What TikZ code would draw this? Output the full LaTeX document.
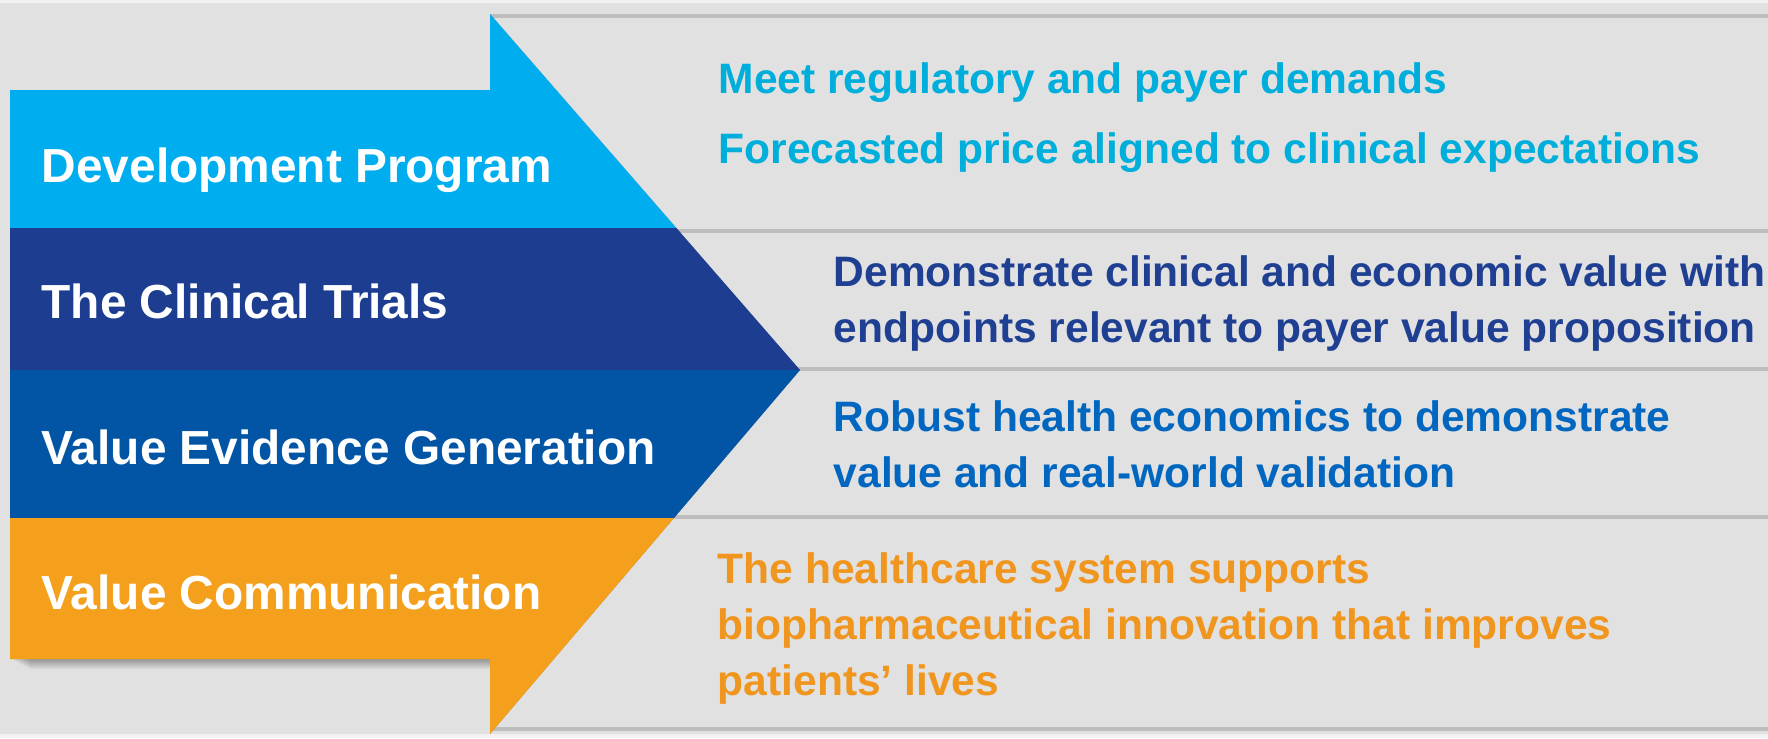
\documentclass[tikz,border=0pt]{standalone}
\usepackage{fontspec}
\setmainfont{Liberation Sans}
\usepackage{tikz}
\usetikzlibrary{positioning}
\definecolor{bggray}{HTML}{E1E1E1}
\definecolor{rulegray}{HTML}{BDBDBD}
\definecolor{devblue}{HTML}{00AEEF}
\definecolor{trialblue}{HTML}{1C3D90}
\definecolor{evidblue}{HTML}{0255A4}
\definecolor{commorange}{HTML}{F5A01D}
\definecolor{devtext}{HTML}{00AEDB}
\definecolor{trialtext}{HTML}{1E3F92}
\definecolor{evidtext}{HTML}{0066C0}
\definecolor{commtext}{HTML}{F0961E}
\tikzset{
stagelabel/.style={anchor=base west, inner sep=0pt, text=white, font=\fontsize{13.6pt}{16pt}\selectfont\bfseries}, % white names on the arrow
goaltext/.style={anchor=base west, inner sep=0pt, align=left, font=\fontsize{12.1pt}{15.9pt}\selectfont\bfseries}, % texts on the right (base = last line)
rowrule/.style={draw=rulegray, line width=1.4pt}, % lines on top of each row
}

\begin{document}
\begin{tikzpicture}[x=0.01cm, y=-0.01cm]
  % Background
  \fill[bggray] (0,0) rectangle (1768,738);
  \fill[gray!10] (0,0) rectangle (1768,3);
  \fill[gray!10] (0,734) rectangle (1768,738);
  \useasboundingbox (0,0) rectangle (1768,738);

  % Rows
  \foreach \y in {16,231,369,517,729}
    \draw[rowrule] (490,\y) -- (1768,\y);

  % Arrow
  \coordinate (ntop) at (490,14);
  \coordinate (tip) at (800,370);
  \coordinate (nbot) at (490,734);
  \foreach \s in {2,4,...,20}
    \fill[black, opacity=0.035, shift={(\s,0.5*\s)}]
      (10,90) -- (490,90) -- (ntop) -- (tip) -- (nbot) -- (490,659) -- (10,659) -- cycle;
  \begin{scope}
    \clip (10,90) -- (490,90) -- (ntop) -- (tip) -- (nbot) -- (490,659) -- (10,659) -- cycle;
    \fill[devblue] (0,0) rectangle (820,228);
    \fill[trialblue] (0,228) rectangle (820,370);
    \fill[evidblue] (0,370) rectangle (820,518);
    \fill[commorange] (0,518) rectangle (820,738);
  \end{scope}

  % Stages
  \node[stagelabel] (dev) at (41,182) {Development Program};
  \node[stagelabel] (trial) at (41,318) {The Clinical Trials};
  \node[stagelabel] (evid) at (41,464) {Value Evidence Generation};
  \node[stagelabel] (comm) at (41,609) {Value Communication};

  % Goals
  \node[goaltext, text=devtext] (meet) at (718,93) {Meet regulatory and payer demands};
  \node[goaltext, text=devtext] (price) at (718,163) {Forecasted price aligned to clinical expectations};
  \node[goaltext, text=trialtext] (demo) at (833,342) {Demonstrate clinical and economic value with\\endpoints relevant to payer value proposition};
  \node[goaltext, text=evidtext] (robust) at (833,487) {Robust health economics to demonstrate\\value and real-world validation};
  \node[goaltext, text=commtext] (care) at (717,695) {The healthcare system supports\\biopharmaceutical innovation that improves\\patients’ lives};
\end{tikzpicture}
\end{document}
